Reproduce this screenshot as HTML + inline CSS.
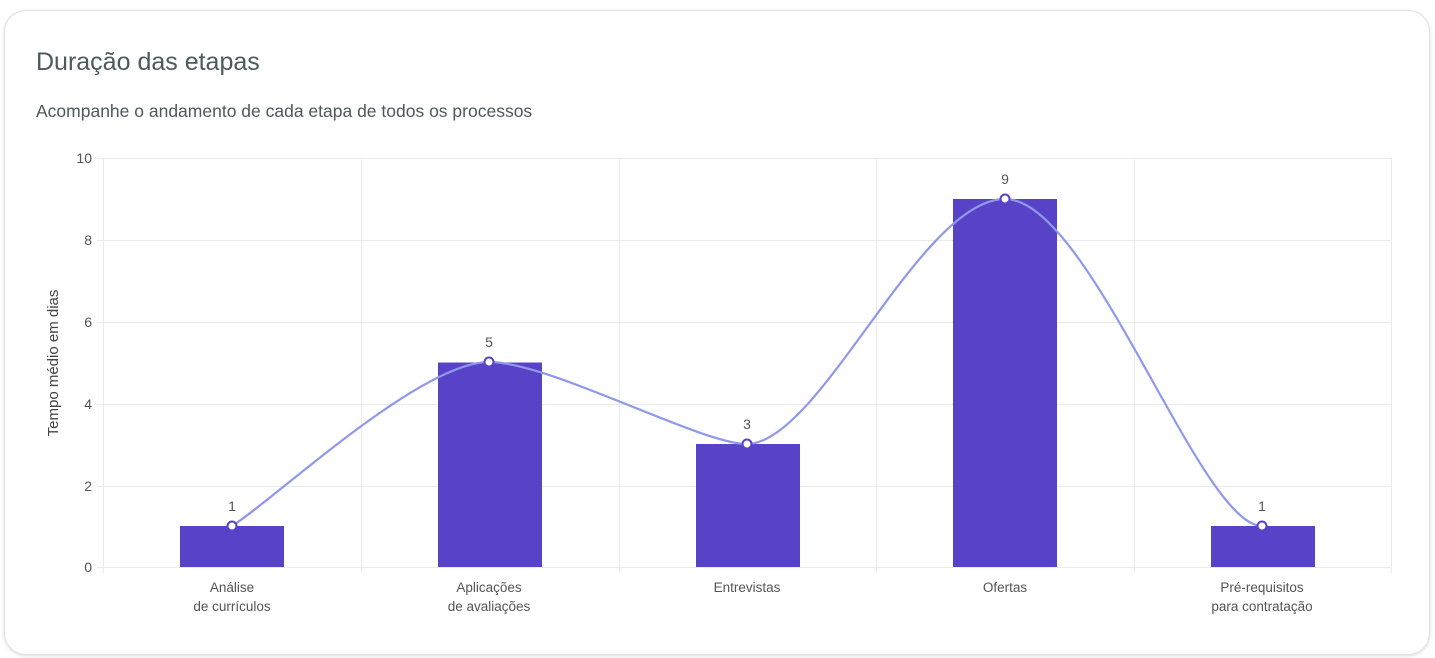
<!DOCTYPE html>
<html><head><meta charset="utf-8"><style>
body{margin:0;background:#fff;width:1435px;height:658px;overflow:hidden;font-family:"Liberation Sans",sans-serif}
.card{position:absolute;left:4px;top:10px;width:1424px;height:643px;border:1px solid #e2e2e2;border-radius:22px;box-shadow:0 1px 3px rgba(0,0,0,.15);background:#fff}
</style></head><body>
<div class="card"></div>
<svg width="1435" height="658" style="position:absolute;left:0;top:0" font-family="Liberation Sans, sans-serif">
<text x="36" y="70" font-size="25" fill="#4a5a5e">Duração das etapas</text>
<text x="36" y="117" font-size="17.5" fill="#4a5a5e">Acompanhe o andamento de cada etapa de todos os processos</text>
<g stroke="#ebebeb" stroke-width="1">
<line x1="97" y1="158.5" x2="1391" y2="158.5"/><line x1="97" y1="240.5" x2="1391" y2="240.5"/><line x1="97" y1="322.5" x2="1391" y2="322.5"/><line x1="97" y1="404.5" x2="1391" y2="404.5"/><line x1="97" y1="486.5" x2="1391" y2="486.5"/><line x1="97" y1="567.5" x2="1391" y2="567.5"/>
<line x1="103.5" y1="158" x2="103.5" y2="573"/><line x1="361.5" y1="158" x2="361.5" y2="573"/><line x1="619.5" y1="158" x2="619.5" y2="573"/><line x1="876.5" y1="158" x2="876.5" y2="573"/><line x1="1134.5" y1="158" x2="1134.5" y2="573"/><line x1="1391.5" y1="158" x2="1391.5" y2="573"/>
</g>
<g font-size="14" fill="#555" text-anchor="end">
<text x="92" y="163">10</text><text x="92" y="245">8</text><text x="92" y="327">6</text><text x="92" y="409">4</text><text x="92" y="491">2</text><text x="92" y="572">0</text>
</g>
<text transform="translate(58,363) rotate(-90)" font-size="15" fill="#444" text-anchor="middle">Tempo médio em dias</text>
<g fill="#5843c8">
<rect x="180" y="526" width="104" height="41"/><rect x="438" y="362.5" width="104" height="204.5"/><rect x="696" y="444" width="104" height="123"/><rect x="953" y="199" width="104" height="368"/><rect x="1211" y="526" width="104" height="41"/>
</g>
<path d="M232,526 C275,499 420,362 489,362 C550,362 700,444 747,444 C820,444 920,199 1005,199 C1090,199 1200,526 1262,526" fill="none" stroke="#8f98ea" stroke-width="2.2"/>
<g fill="#fff" stroke="#5843c8" stroke-width="2">
<circle cx="232" cy="526" r="4.5"/><circle cx="489" cy="362" r="4.5"/><circle cx="747" cy="444" r="4.5"/><circle cx="1005" cy="199" r="4.5"/><circle cx="1262" cy="526" r="4.5"/>
</g>
<g font-size="14" fill="#555" text-anchor="middle">
<text x="232" y="511">1</text><text x="489" y="347">5</text><text x="747" y="429">3</text><text x="1005" y="184">9</text><text x="1262" y="511">1</text>
</g>
<g font-size="13.5" fill="#555" text-anchor="middle">
<text x="232" y="592">Análise</text><text x="232" y="611">de currículos</text>
<text x="489" y="592">Aplicações</text><text x="489" y="611">de avaliações</text>
<text x="747" y="592">Entrevistas</text>
<text x="1005" y="592">Ofertas</text>
<text x="1262" y="592">Pré-requisitos</text><text x="1262" y="611">para contratação</text>
</g>
</svg>
</body></html>
